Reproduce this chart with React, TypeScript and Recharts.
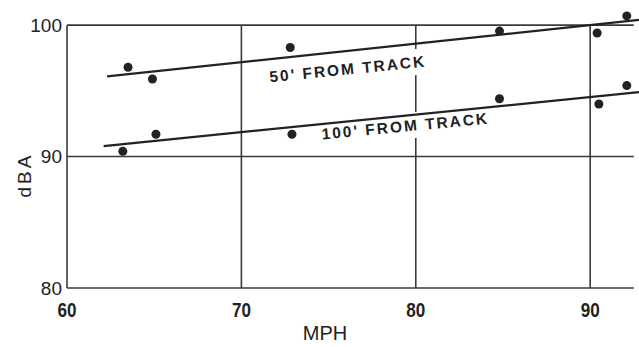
import { ComposedChart, Scatter, XAxis, YAxis, ReferenceLine, ReferenceDot } from 'recharts'

// measured points, 50 ft and 100 ft from track
const upperMph = [63.5, 64.9, 72.8, 84.8, 90.4, 92.1]
const upperDba = [96.8, 95.9, 98.3, 99.55, 99.4, 100.7]
const lowerMph = [63.2, 65.1, 72.9, 84.8, 90.5, 92.1]
const lowerDba = [90.4, 91.7, 91.7, 94.4, 94.0, 95.4]

// fitted lines (end points)
const upperFitMph = [62.3, 92.8]
const upperFitDba = [96.1, 100.4]
const lowerFitMph = [62.1, 92.8]
const lowerFitDba = [90.8, 94.9]

const xTicks = [60, 70, 80, 90]
const yTicks = [80, 90, 100]
const gridEndMph = 92.5

const lineLabels = [
  { text: "50' FROM TRACK", mph: 76.1, dba: 96.67, angle: -5.8 },
  { text: "100' FROM TRACK", mph: 79.4, dba: 92.33, angle: -5.5 },
]

const zip = (xs: number[], ys: number[]) => xs.map((x, i) => ({ x, y: ys[i] }))

const ink = '#222'
const gridInk = '#3a3a3a'

function SlopeLabel(props: any) {
  const { viewBox, text, angle } = props
  const cx = viewBox.x + viewBox.width / 2
  const cy = viewBox.y + viewBox.height / 2
  return (
    <g transform={`rotate(${angle} ${cx} ${cy})`}>
      <rect x={cx - 92} y={cy - 13} width={184} height={26} fill="#fff" />
      <text
        x={cx}
        y={cy}
        textAnchor="middle"
        dominantBaseline="central"
        fontFamily="'Liberation Sans', Arial, sans-serif"
        fontSize={15.5}
        fontWeight="bold"
        letterSpacing={2}
        fill={ink}
      >
        {text}
      </text>
    </g>
  )
}

// condensed bold numerals under the x axis
function NarrowTick(props: any) {
  const { x, y, payload } = props
  return (
    <text
      x={x}
      y={y}
      dy="0.71em"
      textAnchor="middle"
      fontFamily="'Liberation Sans', Arial, sans-serif"
      fontWeight="bold"
      fontSize={20}
      textLength={19}
      lengthAdjust="spacingAndGlyphs"
      fill={ink}
    >
      {payload.value}
    </text>
  )
}

export default function App() {
  return (
    <div style={{ position: 'absolute', left: 0, top: 0, background: '#fff' }}>
      <ComposedChart width={639} height={347} margin={{ top: 12, right: 0, left: 0, bottom: 14 }}>
        <XAxis
          type="number"
          dataKey="x"
          domain={[60, 92.8]}
          ticks={xTicks}
          axisLine={false}
          tickLine={false}
          tickSize={6}
          tickMargin={9}
          height={45}
          tick={<NarrowTick />}
          label={() => (
            <text x={325} y={340} textAnchor="middle" fontFamily="'Liberation Sans', Arial, sans-serif" fontSize={20} fill={ink}>
              MPH
            </text>
          )}
        />
        <YAxis
          type="number"
          dataKey="y"
          domain={[80, 101]}
          ticks={yTicks}
          axisLine={false}
          tickLine={false}
          tickSize={3}
          tickMargin={2}
          width={67}
          tick={{ fontFamily: "'Liberation Sans', Arial, sans-serif", fontSize: 19, fill: ink }}
          label={() => (
            <text
              x={24}
              y={175}
              transform="rotate(-90 24 175)"
              textAnchor="middle"
              dominantBaseline="central"
              fontFamily="'Liberation Sans', Arial, sans-serif"
              fontSize={19}
              letterSpacing={3}
              fill={ink}
            >
              dBA
            </text>
          )}
        />
        {xTicks.map((t) => (
          <ReferenceLine key={'v' + t} segment={[{ x: t, y: 80 }, { x: t, y: 100 }]} stroke={gridInk} strokeWidth={1.6} ifOverflow="visible" />
        ))}
        {yTicks.map((t) => (
          <ReferenceLine key={'h' + t} segment={[{ x: 60, y: t }, { x: gridEndMph, y: t }]} stroke={gridInk} strokeWidth={1.6} ifOverflow="visible" />
        ))}
        {lineLabels.map((l) => (
          <ReferenceDot
            key={l.text}
            x={l.mph}
            y={l.dba}
            r={0}
            fill="none"
            stroke="none"
            ifOverflow="visible"
            label={(p: any) => <SlopeLabel {...p} text={l.text} angle={l.angle} />}
          />
        ))}
        <Scatter data={zip(upperFitMph, upperFitDba)} line={{ stroke: ink, strokeWidth: 2.2 }} shape={() => null} isAnimationActive={false} />
        <Scatter data={zip(lowerFitMph, lowerFitDba)} line={{ stroke: ink, strokeWidth: 2.2 }} shape={() => null} isAnimationActive={false} />
        <Scatter data={zip(upperMph, upperDba)} fill={ink} shape={(p: any) => <circle cx={p.cx} cy={p.cy} r={4.5} fill={ink} />} isAnimationActive={false} />
        <Scatter data={zip(lowerMph, lowerDba)} fill={ink} shape={(p: any) => <circle cx={p.cx} cy={p.cy} r={4.5} fill={ink} />} isAnimationActive={false} />
      </ComposedChart>
    </div>
  )
}
